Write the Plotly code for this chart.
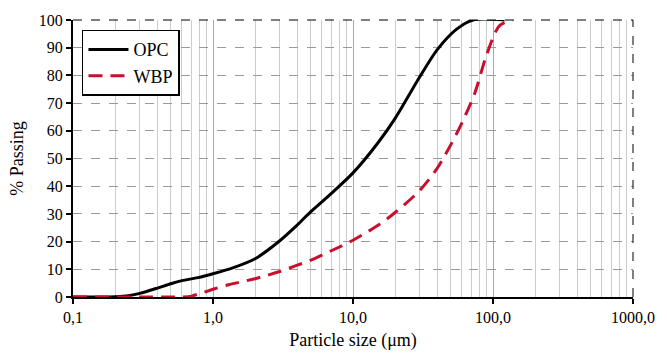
import plotly.graph_objects as go

opc_x = [0.1, 0.15, 0.2, 0.25, 0.3, 0.4, 0.5, 0.6, 0.78, 1.0, 1.4, 2.0, 3.0, 4.0, 5.0, 6.7, 10.0, 15.0, 20.0, 30.0, 40.0, 55.0, 72.0, 121.0]
opc_y = [0, 0, 0.1, 0.5, 1.3, 3.2, 4.8, 5.9, 7.0, 8.4, 10.6, 13.8, 20.3, 26.0, 30.8, 36.5, 44.8, 55.5, 64.5, 79.5, 89.3, 96.7, 100, 100]

wbp_x = [0.1, 0.3, 0.5, 0.6, 0.7, 0.8, 0.9, 1.0, 1.31, 2.0, 3.0, 4.0, 5.0, 7.0, 10.0, 15.0, 20.0, 30.0, 40.0, 50.0, 60.0, 74.0, 90.0, 111.0, 138.0]
wbp_y = [0, 0, 0, 0, 0.3, 1.2, 2.0, 2.8, 4.5, 6.6, 9.2, 11.5, 13.3, 16.7, 20.5, 25.8, 30.5, 38.5, 46.5, 55.0, 62.9, 73.5, 87.4, 97.9, 100]

x_tickvals = [0.1, 1, 10, 100, 1000]
x_ticktext = ["0,1", "1,0", "10,0", "100,0", "1000,0"]
minor_vals = [m * 10 ** e for e in range(-1, 3) for m in range(2, 10)]

font = "Liberation Serif, Times New Roman, Times, serif"

fig = go.Figure()
fig.add_trace(go.Scatter(x=opc_x, y=opc_y, mode="lines", name="OPC",
                         line=dict(color="black", width=3, shape="spline", smoothing=0.8)))
fig.add_trace(go.Scatter(x=wbp_x, y=wbp_y, mode="lines", name="WBP",
                         line=dict(color="#c8102e", width=3, dash="14px,8px", shape="spline", smoothing=0.8)))

fig.update_layout(
    width=667, height=359,
    margin=dict(l=73, r=26, t=20, b=53),
    plot_bgcolor="white", paper_bgcolor="white",
    font=dict(family=font, size=16, color="black"),
    showlegend=True,
    legend=dict(x=0.016, y=0.965, xanchor="left", yanchor="top",
                bgcolor="white", bordercolor="black", borderwidth=1.5,
                font=dict(family=font, size=18), tracegroupgap=0,
                itemwidth=40),
    xaxis=dict(type="log", range=[-1, 3],
               tickvals=x_tickvals, ticktext=x_ticktext,
               tickfont=dict(family=font, size=16),
               showgrid=True, gridcolor="#a8a8a8", gridwidth=1,
               minor=dict(tickvals=minor_vals, showgrid=True, gridcolor="#cccccc", gridwidth=1, ticks=""),
               showline=True, linecolor="black", linewidth=2,
               ticks="outside", ticklen=5, tickcolor="black", tickwidth=1.5,
               title=dict(text="Particle size (μm)", font=dict(family=font, size=18), standoff=8),
               zeroline=False),
    yaxis=dict(range=[0, 100], dtick=10,
               tickfont=dict(family=font, size=16),
               showgrid=True, gridcolor="#9a9a9a", griddash="dash", gridwidth=1,
               showline=True, linecolor="black", linewidth=2,
               ticks="outside", ticklen=5, tickcolor="black", tickwidth=1.5,
               title=dict(text="% Passing", font=dict(family=font, size=18), standoff=10),
               zeroline=False),
)

fig.add_shape(type="line", xref="paper", yref="paper", x0=0, x1=1, y0=1, y1=1,
              line=dict(color="black", width=1, dash="dash"))
fig.add_shape(type="line", xref="paper", yref="paper", x0=1, x1=1, y0=0, y1=1,
              line=dict(color="black", width=1, dash="dash"))

fig.write_html("out.html")
